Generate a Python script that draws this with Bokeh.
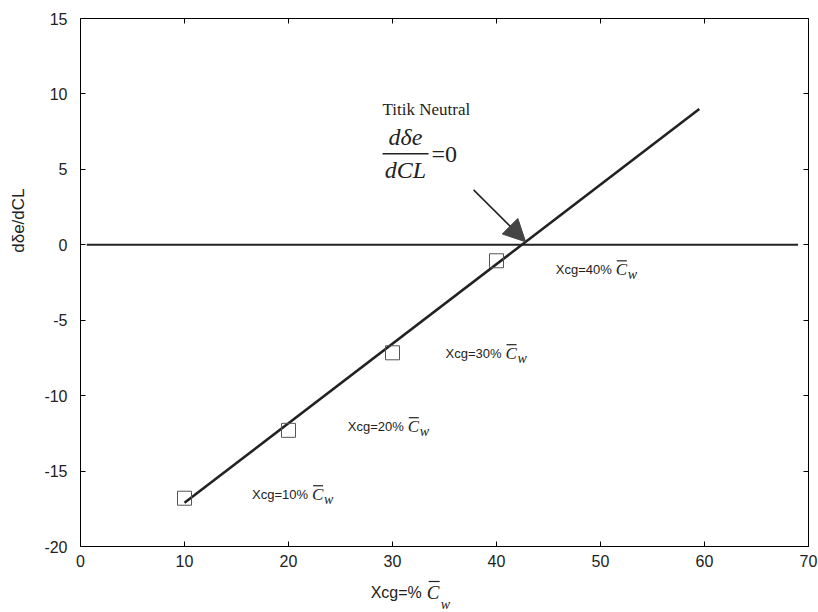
import math
from bokeh.plotting import figure
from bokeh.models import (Label, Arrow, NormalHead, LinearAxis, Range1d, NumeralTickFormatter)
from bokeh.embed import file_html
from bokeh.resources import INLINE

# ---------------- data ----------------
xcg_points = [10, 20, 30, 40]                 # Xcg in % of mean chord
slope_points = [-16.8, -12.3, -7.16, -1.06]   # d(delta e)/dCL
fit_x = [10, 59.5]
fit_y = [-17.1, 9.0]
zero_x = [0.6, 69.0]
zero_y = [0.0, 0.0]
x_tick_values = [0, 10, 20, 30, 40, 50, 60, 70]
y_tick_values = [-20, -15, -10, -5, 0, 5, 10, 15]
annot_pcts = ["10", "20", "30", "40"]
annot_x = [16.5, 25.7, 35.1, 45.7]
annot_y = [-16.57, -12.06, -7.22, -1.66]
neutral_x = 31.25
neutral_y = 6.03
arrow_start = (37.8, 3.64)
arrow_end = (42.8, 0.2)

X_MIN, X_MAX, Y_MIN, Y_MAX = 0, 70, -20, 15

# ---------------- layout ----------------
W, H = 818, 612
PAD_L, PAD_R, PAD_T, PAD_B = 80, 10, 18, 66
PX_X = (W - PAD_L - PAD_R) / (X_MAX - X_MIN)
PX_Y = (H - PAD_T - PAD_B) / (Y_MAX - Y_MIN)

INK = "#222222"
SANS = "Liberation Sans"
SERIF = "Liberation Serif"

p = figure(width=W, height=H,
           x_range=Range1d(X_MIN - PAD_L / PX_X, X_MAX + PAD_R / PX_X),
           y_range=Range1d(Y_MIN - PAD_B / PX_Y, Y_MAX + PAD_T / PX_Y),
           output_backend="svg", toolbar_location=None,
           min_border_left=0, min_border_right=0, min_border_top=0, min_border_bottom=0)
p.xgrid.visible = False
p.ygrid.visible = False
p.outline_line_color = None
p.background_fill_color = "white"
p.border_fill_color = "white"


def style_axis(ax, ticks, loc, bounds, show_labels=True):
    ax.fixed_location = loc
    ax.bounds = bounds
    ax.ticker = ticks
    ax.major_tick_in = 5
    ax.major_tick_out = 0
    ax.minor_tick_in = 0
    ax.minor_tick_out = 0
    ax.axis_line_color = "black"
    ax.axis_line_width = 1
    ax.major_tick_line_color = "black"
    ax.major_label_text_font = SANS
    ax.major_label_text_color = INK
    ax.major_label_text_font_size = "16px"
    ax.formatter = NumeralTickFormatter(format="0")
    if not show_labels:
        ax.major_label_overrides = {v: "" for v in ticks}


style_axis(p.xaxis[0], x_tick_values, Y_MIN, (X_MIN, X_MAX))
p.xaxis[0].major_label_standoff = 8
style_axis(p.yaxis[0], y_tick_values, X_MIN, (Y_MIN, Y_MAX))
p.yaxis[0].major_label_standoff = 13

top_ax = LinearAxis()
style_axis(top_ax, x_tick_values, Y_MAX, (X_MIN, X_MAX), show_labels=False)
p.add_layout(top_ax, "above")
right_ax = LinearAxis()
style_axis(right_ax, y_tick_values, X_MAX, (Y_MIN, Y_MAX), show_labels=False)
p.add_layout(right_ax, "right")

# ---------------- marks ----------------
p.line(zero_x, zero_y, line_color=INK, line_width=2)
p.line(fit_x, fit_y, line_color=INK, line_width=2.6)
p.scatter(xcg_points, slope_points, marker="square", size=14, fill_color=None,
          line_color="#555555", line_width=1)


def add_label(x, y, text, dx=0, dy=0, size="13px", font=SANS, style="normal",
              align="left", baseline="middle", angle=0):
    p.add_layout(Label(x=x, y=y, x_offset=dx, y_offset=dy, text=text, text_font=font,
                       text_font_size=size, text_font_style=style, text_align=align,
                       text_baseline=baseline, angle=angle, text_color=INK))


def overline(x, y, dx0, dx1, dy, width=1.2):
    p.segment(x0=[x + dx0 / PX_X], y0=[y + dy / PX_Y], x1=[x + dx1 / PX_X], y1=[y + dy / PX_Y],
              line_color=INK, line_width=width)


def cbar_w(x, y, dx, c_size="17px", w_size="14px", w_dx=12, w_dy=-5, ol_dy=9):
    add_label(x, y, "C", dx=dx, dy=0, size=c_size, font=SERIF, style="italic")
    overline(x, y, dx + 1, dx + 11, ol_dy)
    add_label(x, y, "w", dx=dx + w_dx, dy=w_dy, size=w_size, font=SERIF, style="italic")


for pct, ax_, ay_ in zip(annot_pcts, annot_x, annot_y):
    add_label(ax_, ay_, "Xcg=%s%%" % pct, size="13px")
    cbar_w(ax_, ay_, 60)

# neutral point annotation
add_label(neutral_x, neutral_y, "Titik Neutral", dx=-23, dy=44, size="17px", font=SERIF)
add_label(neutral_x, neutral_y, "dδe", dx=0, dy=17, size="24px", font=SERIF, style="italic",
          align="center")
add_label(neutral_x, neutral_y, "dCL", dx=0, dy=-16, size="24px", font=SERIF, style="italic",
          align="center")
add_label(neutral_x, neutral_y, "=0", dx=26, dy=0, size="24px", font=SERIF)
overline(neutral_x, neutral_y, -23, 23, 0, width=1.5)

p.add_layout(Arrow(end=NormalHead(size=22, fill_color="#444444", line_color="#444444"),
                   x_start=arrow_start[0], y_start=arrow_start[1],
                   x_end=arrow_end[0], y_end=arrow_end[1],
                   line_color=INK, line_width=1.6))

# axis titles
add_label(X_MIN, 1.6, "dδe/dCL", dx=-62, size="17px", align="center", angle=math.pi / 2)
add_label(27.9, Y_MIN, "Xcg=%", dy=-46, size="16px")
add_label(27.9, Y_MIN, "C", dx=56, dy=-46, size="19px", font=SERIF, style="italic")
overline(27.9, Y_MIN, 58, 69, -35)
add_label(27.9, Y_MIN, "w", dx=70, dy=-58, size="14px", font=SERIF, style="italic")

open("out.html", "w").write(file_html(p, INLINE))
